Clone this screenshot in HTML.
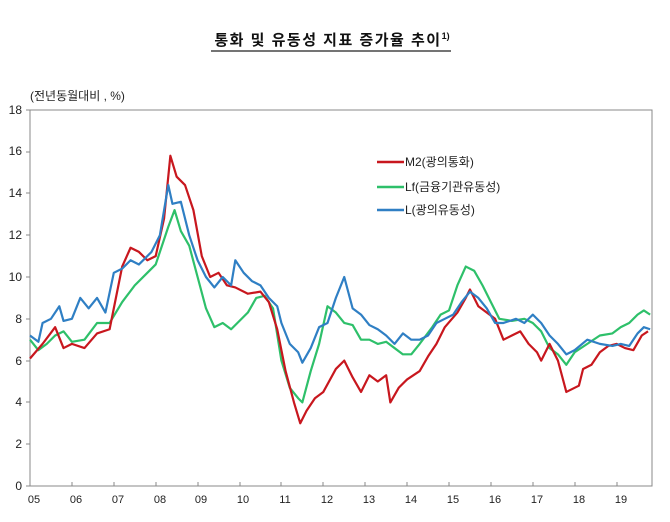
<!DOCTYPE html>
<html><head><meta charset="utf-8"><style>
html,body{margin:0;padding:0;background:#fff;}
</style></head><body>
<svg width="670" height="517" xmlns="http://www.w3.org/2000/svg" font-family="Liberation Sans, Noto Sans CJK KR, sans-serif">
<rect width="670" height="517" fill="#fff"/>
<text x="332" y="45" text-anchor="middle" font-size="15" font-weight="bold" fill="#111" letter-spacing="1.5">통화 및 유동성 지표 증가율 추이<tspan font-size="9" dy="-6" letter-spacing="0">1)</tspan></text>
<line x1="211" y1="51" x2="451" y2="51" stroke="#222" stroke-width="1.3"/>
<text x="30" y="100" font-size="12" fill="#222">(전년동월대비 , %)</text>
<g font-size="12" fill="#222" text-anchor="end">
<text x="22" y="490">0</text><text x="22" y="448">2</text><text x="22" y="406">4</text><text x="22" y="365">6</text><text x="22" y="323">8</text><text x="22" y="281">10</text><text x="22" y="239">12</text><text x="22" y="197">14</text><text x="22" y="155">16</text><text x="22" y="114">18</text>
</g>
<rect x="30" y="110" width="622" height="376" fill="none" stroke="#888" stroke-width="1"/>
<g stroke="#888">
<line x1="26" y1="486" x2="30" y2="486"/><line x1="26" y1="444" x2="30" y2="444"/><line x1="26" y1="402" x2="30" y2="402"/><line x1="26" y1="361" x2="30" y2="361"/><line x1="26" y1="319" x2="30" y2="319"/><line x1="26" y1="277" x2="30" y2="277"/><line x1="26" y1="235" x2="30" y2="235"/><line x1="26" y1="193" x2="30" y2="193"/><line x1="26" y1="152" x2="30" y2="152"/><line x1="26" y1="110" x2="30" y2="110"/>
<line x1="72" y1="482" x2="72" y2="486"/><line x1="114" y1="482" x2="114" y2="486"/><line x1="156" y1="482" x2="156" y2="486"/><line x1="198" y1="482" x2="198" y2="486"/><line x1="240" y1="482" x2="240" y2="486"/><line x1="281" y1="482" x2="281" y2="486"/><line x1="323" y1="482" x2="323" y2="486"/><line x1="365" y1="482" x2="365" y2="486"/><line x1="407" y1="482" x2="407" y2="486"/><line x1="449" y1="482" x2="449" y2="486"/><line x1="491" y1="482" x2="491" y2="486"/><line x1="533" y1="482" x2="533" y2="486"/><line x1="575" y1="482" x2="575" y2="486"/><line x1="617" y1="482" x2="617" y2="486"/>
</g>
<g font-size="11" fill="#222" text-anchor="middle">
<text x="34" y="503">05</text><text x="76" y="503">06</text><text x="118" y="503">07</text><text x="160" y="503">08</text><text x="201" y="503">09</text><text x="243" y="503">10</text><text x="285" y="503">11</text><text x="327" y="503">12</text><text x="369" y="503">13</text><text x="411" y="503">14</text><text x="453" y="503">15</text><text x="495" y="503">16</text><text x="537" y="503">17</text><text x="579" y="503">18</text><text x="621" y="503">19</text>
</g>
<g transform="translate(-179.5,486) scale(41.9,-20.9)" fill="none" stroke-width="2.2" stroke-linejoin="round">
<polyline vector-effect="non-scaling-stroke" stroke="#2ec06a" points="5.0,7.0 5.2,6.5 5.4,6.8 5.6,7.2 5.8,7.4 6.0,6.9 6.3,7.0 6.6,7.8 6.9,7.8 7.2,8.8 7.5,9.6 7.8,10.2 8.0,10.6 8.3,12.4 8.45,13.2 8.6,12.2 8.8,11.5 9.0,10 9.2,8.5 9.4,7.6 9.6,7.8 9.8,7.5 10.0,7.9 10.2,8.3 10.4,9.0 10.6,9.1 10.8,8.5 11.0,6.0 11.2,4.7 11.4,4.2 11.5,4.0 11.7,5.5 11.9,6.8 12.1,8.6 12.3,8.3 12.5,7.8 12.7,7.7 12.9,7.0 13.1,7.0 13.3,6.8 13.5,6.9 13.7,6.6 13.9,6.3 14.1,6.3 14.3,6.8 14.6,7.6 14.8,8.2 15.0,8.4 15.2,9.6 15.4,10.5 15.6,10.3 15.8,9.6 16.0,8.8 16.2,8.0 16.5,7.9 16.8,8.0 17.0,7.8 17.2,7.4 17.4,6.6 17.6,6.3 17.8,5.8 18.0,6.4 18.3,6.8 18.6,7.2 18.9,7.3 19.1,7.6 19.3,7.8 19.5,8.2 19.65,8.4 19.8,8.2"/>
<polyline vector-effect="non-scaling-stroke" stroke="#c8171e" points="5.0,6.1 5.3,6.8 5.6,7.6 5.8,6.6 6.0,6.8 6.3,6.6 6.6,7.3 6.9,7.5 7.0,8.5 7.2,10.5 7.4,11.4 7.6,11.2 7.8,10.8 8.0,11.0 8.2,12.8 8.35,15.8 8.5,14.8 8.7,14.4 8.9,13.2 9.1,11 9.3,10 9.5,10.2 9.7,9.6 9.9,9.5 10.2,9.2 10.5,9.3 10.7,8.8 10.9,7.5 11.1,5.5 11.3,4.0 11.45,3.0 11.6,3.6 11.8,4.2 12.0,4.5 12.3,5.6 12.5,6.0 12.7,5.2 12.9,4.5 13.1,5.3 13.3,5.0 13.5,5.3 13.6,4.0 13.8,4.7 14.0,5.1 14.3,5.5 14.5,6.2 14.7,6.8 14.9,7.6 15.2,8.3 15.4,9.0 15.5,9.4 15.7,8.6 15.9,8.3 16.1,8.0 16.3,7.0 16.5,7.2 16.7,7.4 16.9,6.8 17.1,6.4 17.2,6.0 17.4,6.8 17.6,6.0 17.8,4.5 18.1,4.8 18.2,5.6 18.4,5.8 18.6,6.4 18.8,6.7 19.0,6.8 19.2,6.6 19.4,6.5 19.6,7.2 19.75,7.4"/>
<polyline vector-effect="non-scaling-stroke" stroke="#2f7fc4" points="5.0,7.2 5.2,6.9 5.3,7.8 5.5,8.0 5.7,8.6 5.8,7.9 6.0,8.0 6.2,9.0 6.4,8.5 6.6,9.0 6.8,8.3 7.0,10.2 7.2,10.4 7.4,10.8 7.6,10.6 7.9,11.2 8.1,12.0 8.3,14.4 8.4,13.5 8.6,13.6 8.8,12 9.0,10.8 9.2,10.0 9.4,9.5 9.6,10.0 9.8,9.6 9.9,10.8 10.1,10.2 10.3,9.8 10.5,9.6 10.7,9.0 10.9,8.6 11.0,7.8 11.2,6.8 11.4,6.4 11.5,5.9 11.7,6.6 11.9,7.6 12.1,7.8 12.3,9.0 12.5,10.0 12.7,8.5 12.9,8.2 13.1,7.7 13.3,7.5 13.5,7.2 13.7,6.8 13.9,7.3 14.1,7.0 14.3,7.0 14.5,7.2 14.7,7.8 14.9,8.0 15.1,8.2 15.3,8.8 15.5,9.3 15.7,9.0 15.9,8.5 16.1,7.8 16.3,7.8 16.6,8.0 16.8,7.8 17.0,8.2 17.2,7.8 17.4,7.2 17.6,6.8 17.8,6.3 18.0,6.5 18.3,7.0 18.6,6.8 18.9,6.7 19.1,6.8 19.3,6.7 19.5,7.3 19.65,7.6 19.8,7.5"/>
</g>
<g stroke-width="2.5">
<line x1="377" y1="162" x2="404" y2="162" stroke="#c8171e"/>
<line x1="377" y1="187" x2="404" y2="187" stroke="#2ec06a"/>
<line x1="377" y1="210" x2="404" y2="210" stroke="#2f7fc4"/>
</g>
<g font-size="12" fill="#222">
<text x="405" y="166">M2(광의통화)</text>
<text x="405" y="191">Lf(금융기관유동성)</text>
<text x="405" y="214">L(광의유동성)</text>
</g>
</svg>
</body></html>
